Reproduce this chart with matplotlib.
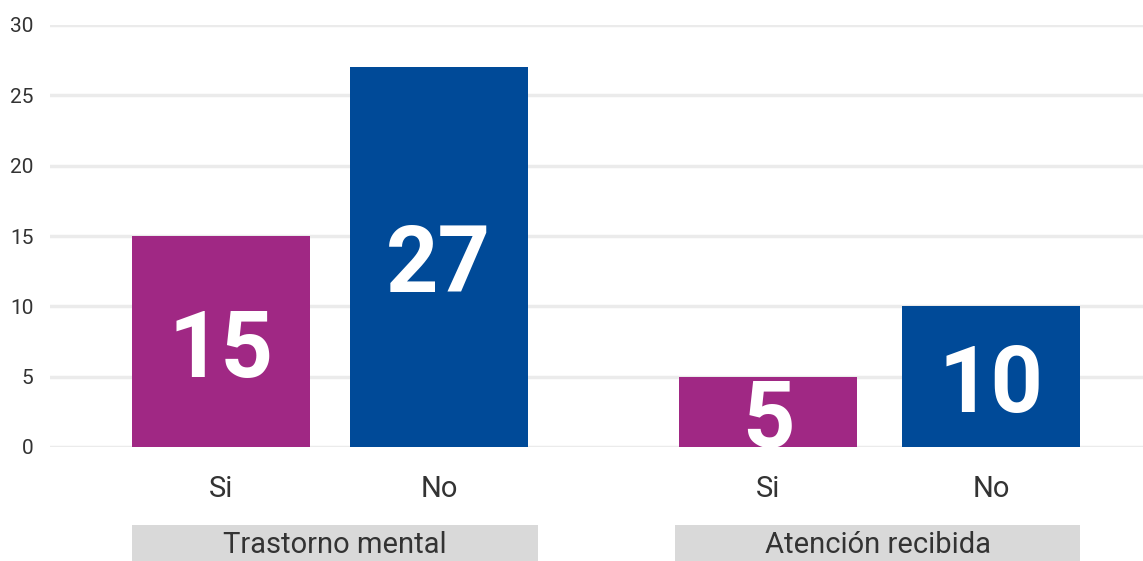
import matplotlib
matplotlib.use("Agg")
import matplotlib.pyplot as plt
from matplotlib.patches import Rectangle

groups = ["Trastorno mental", "Atención recibida"]
bar_labels = ["Si", "No", "Si", "No"]
values = [15, 27, 5, 10]
colors = ["#A02884", "#004A98", "#A02884", "#004A98"]
yticks = [0, 5, 10, 15, 20, 25, 30]

positions = [0, 0.99, 2.486, 3.5]
width = 0.81
box_spans = [(-0.405, 1.441), (2.064, 3.905)]

plt.rcParams["font.family"] = ["Roboto", "DejaVu Sans"]

W, H = 1143, 561
fig = plt.figure(figsize=(W / 100, H / 100), dpi=100)
ax = fig.add_axes([50 / W, (H - 447) / H, (W - 50) / W, 422 / H])

for y in yticks:
    ax.axhline(y, color="#ebebeb", lw=2.5, zorder=0)

ax.bar(positions, values, width=width, color=colors, zorder=2)
for x, v in zip(positions, values):
    ax.text(x, v / 2, str(v), ha="center", va="center_baseline", color="white",
            fontsize=66, fontweight="bold", zorder=3)

ax.set_xlim(-0.777, 4.19)
ax.set_ylim(0, 30)
ax.set_yticks(yticks)
ax.set_yticklabels([str(t) for t in yticks], fontsize=15, color="#333333")
ax.tick_params(axis="y", length=0, pad=12)
ax.set_xticks(positions)
ax.set_xticklabels(bar_labels, fontsize=21, color="#333333")
ax.tick_params(axis="x", length=0, pad=20)
for s in ax.spines.values():
    s.set_visible(False)

# group label boxes
for (x0, x1), name in zip(box_spans, groups):
    rect = Rectangle((x0, -5.55), x1 - x0, -2.7, transform=ax.transData,
                     facecolor="#d9d9d9", edgecolor="none", clip_on=False, zorder=1)
    ax.add_patch(rect)
    ax.text((x0 + x1) / 2, -7.0, name, ha="center", va="center", fontsize=21,
            color="#333333", clip_on=False)

fig.savefig("out.png", dpi=100)
